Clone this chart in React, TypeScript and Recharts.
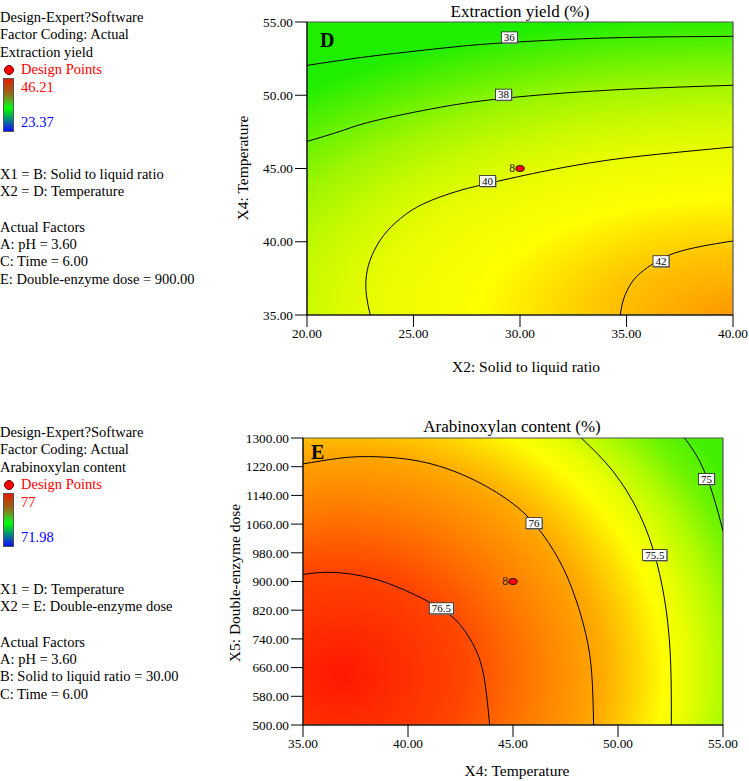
import React from "react";
import { ScatterChart, Scatter, XAxis, YAxis, ReferenceArea } from "recharts";

const SERIF = '"Liberation Serif", "Times New Roman", serif';

type Pt = { x: number; y: number };
type Tag = { x: number; y: number; label: string };

// ---- panel D: extraction yield ----
const dTicksX = [20, 25, 30, 35, 40];
const dTicksY = [35, 40, 45, 50, 55];
const d36: Pt[] = [
  { x: 20, y: 52.04 }, { x: 22.35, y: 52.54 }, { x: 24.69, y: 52.95 }, { x: 27.04, y: 53.32 },
  { x: 29.39, y: 53.59 }, { x: 34.08, y: 53.91 }, { x: 40, y: 54.02 },
];
const d38: Pt[] = [
  { x: 20, y: 46.85 }, { x: 21.56, y: 47.54 }, { x: 23.13, y: 48.24 }, { x: 26.26, y: 49.18 },
  { x: 29.39, y: 49.81 }, { x: 34.08, y: 50.34 }, { x: 40, y: 50.68 },
];
const d40: Pt[] = [
  { x: 22.97, y: 35.0 }, { x: 22.79, y: 36.34 }, { x: 22.79, y: 37.71 }, { x: 23.05, y: 39.07 },
  { x: 23.6, y: 40.44 }, { x: 24.38, y: 41.58 }, { x: 25.48, y: 42.6 }, { x: 27.04, y: 43.44 },
  { x: 28.45, y: 43.96 }, { x: 30.95, y: 44.76 }, { x: 34.08, y: 45.56 }, { x: 37.21, y: 46.08 },
  { x: 40, y: 46.47 },
];
const d42: Pt[] = [
  { x: 34.71, y: 35.0 }, { x: 34.87, y: 36.11 }, { x: 35.26, y: 37.25 }, { x: 35.81, y: 38.05 },
  { x: 36.59, y: 38.8 }, { x: 37.53, y: 39.35 }, { x: 38.78, y: 39.76 }, { x: 40, y: 40.05 },
];
const dTags: Tag[] = [
  { x: 29.5, y: 53.95, label: "36" },
  { x: 29.23, y: 50.04, label: "38" },
  { x: 28.48, y: 44.15, label: "40" },
  { x: 36.62, y: 38.67, label: "42" },
];
const dDesign: Tag[] = [{ x: 30, y: 45, label: "8" }];

// ---- panel E: arabinoxylan content ----
const eTicksX = [35, 40, 45, 50, 55];
const eTicksY = [500, 580, 660, 740, 820, 900, 980, 1060, 1140, 1220, 1300];
const e765: Pt[] = [
  { x: 35, y: 919.9 }, { x: 36.43, y: 925.4 }, { x: 38.17, y: 910.6 }, { x: 39.76, y: 878.1 },
  { x: 41.35, y: 831.8 }, { x: 42.46, y: 780.8 }, { x: 43.25, y: 706.6 }, { x: 43.65, y: 623.1 },
  { x: 43.89, y: 500 },
];
const e76: Pt[] = [
  { x: 35, y: 1227.7 }, { x: 36.59, y: 1242.5 }, { x: 38.17, y: 1248.1 }, { x: 40.56, y: 1235.1 },
  { x: 42.94, y: 1188.7 }, { x: 44.84, y: 1123.8 }, { x: 46.11, y: 1054.3 }, { x: 47.22, y: 956.9 },
  { x: 48.02, y: 845.7 }, { x: 48.57, y: 725.1 }, { x: 48.78, y: 613.9 }, { x: 48.84, y: 500 },
];
const e755: Pt[] = [
  { x: 48.25, y: 1300 }, { x: 49.76, y: 1207.3 }, { x: 51.03, y: 1086.7 }, { x: 51.83, y: 956.9 },
  { x: 52.3, y: 817.9 }, { x: 52.51, y: 669.5 }, { x: 52.54, y: 500 },
];
const e75: Pt[] = [
  { x: 53.17, y: 1300 }, { x: 53.89, y: 1235.1 }, { x: 54.52, y: 1142.4 }, { x: 55, y: 1040.4 },
];
const eTags: Tag[] = [
  { x: 41.59, y: 825.3, label: "76.5" },
  { x: 46.0, y: 1062.6, label: "76" },
  { x: 51.75, y: 973.6, label: "75.5" },
  { x: 54.21, y: 1186, label: "75" },
];
const eDesign: Tag[] = [{ x: 45, y: 900, label: "8" }];

const fmt = (v: number) => v.toFixed(2);

function NoDot() {
  return <g />;
}

function LevelTag(props: any) {
  const { cx, cy, payload } = props;
  const s: string = payload.label;
  let tw = 0;
  for (const ch of s) tw += ch === "." ? 2.75 : 5.5;
  const w = tw + 5;
  const h = 11;
  return (
    <g>
      <rect x={cx - w / 2 + 1} y={cy - h / 2 + 1} width={w} height={h} fill="#8a8a8a" />
      <rect x={cx - w / 2} y={cy - h / 2} width={w} height={h} fill="#fff" stroke="#222" strokeWidth={0.8} />
      <text x={cx} y={cy + 3.8} textAnchor="middle" fontSize={11} fontFamily={SERIF} fill="#000">
        {s}
      </text>
    </g>
  );
}

function DesignPt(props: any) {
  const { cx, cy, payload } = props;
  return (
    <g>
      <text x={cx - 5} y={cy + 3.5} textAnchor="end" fontSize={11.5} fontFamily={SERIF} fill="#222">
        {payload.label}
      </text>
      <ellipse cx={cx} cy={cy} rx={4.3} ry={3} fill="#ff0000" stroke="#000" strokeWidth={0.8} />
    </g>
  );
}

function T(props: {
  x: number;
  y: number;
  size?: number;
  color?: string;
  center?: boolean;
  rotate?: boolean;
  bold?: boolean;
  children: React.ReactNode;
}) {
  const { x, y, size = 14.5, color = "#000", center, rotate, bold, children } = props;
  let tf = "translateY(-50%)";
  if (center) tf = "translate(-50%, -50%)";
  if (rotate) tf = "translate(-50%, -50%) rotate(-90deg)";
  return (
    <div
      style={{
        position: "absolute",
        left: x,
        top: y,
        fontFamily: SERIF,
        fontSize: size,
        lineHeight: 1,
        color,
        whiteSpace: "nowrap",
        fontWeight: bold ? 700 : 400,
        transform: tf,
      }}
    >
      {children}
    </div>
  );
}

function SideLegend(props: { top: number; lines: string[]; hi: string; lo: string; factors: string[] }) {
  const { top, lines, hi, lo, factors } = props;
  const o = top;
  return (
    <>
      <T x={0} y={o + 17}>{lines[0]}</T>
      <T x={0} y={o + 34}>{lines[1]}</T>
      <T x={0} y={o + 52}>{lines[2]}</T>
      <div
        style={{
          position: "absolute", left: 4, top: o + 65, width: 8, height: 8, borderRadius: "50%",
          background: "#ff0000", border: "0.5px solid #600",
        }}
      />
      <T x={21} y={o + 69} color="#ff0000">Design Points</T>
      <div
        style={{
          position: "absolute", left: 3, top: o + 78, width: 9, height: 52,
          border: "1px solid #555",
          background:
            "linear-gradient(to bottom, #e81c00 0%, #c0400c 12%, #9a6418 26%, #6c9a1c 38%, #20e020 50%, #00ff00 56%, #00c040 68%, #00808a 80%, #1040c8 90%, #0010ff 100%)",
        }}
      />
      <T x={21} y={o + 87} color="#ff0000">{hi}</T>
      <T x={21} y={o + 122} color="#0000ff">{lo}</T>
      {factors.map((f, i) => {
        const ys = [174, 191, 227, 244, 261, 279];
        return (
          <T key={i} x={0} y={o + ys[i]}>
            {f}
          </T>
        );
      })}
    </>
  );
}

const axisTick = { fill: "#000", fontSize: 13.3, fontFamily: SERIF };

export default function App() {
  return (
    <div style={{ position: "absolute", left: 0, top: 0, width: 749, height: 781, background: "#fff", overflow: "hidden" }}>
      {/* Panel D */}
      <div style={{ position: "absolute", left: 0, top: 0 }}>
        <ScatterChart width={749} height={390} margin={{ top: 22, right: 16, bottom: 45, left: 247 }}>
          <defs>
            <radialGradient
              id="gradD"
              gradientUnits="userSpaceOnUse"
              cx={733}
              cy={315}
              r={300}
              gradientTransform="translate(733 315) scale(2.17 1) translate(-733 -315)"
            >
              <stop offset="0" stopColor="#ff9800" />
              <stop offset="0.2" stopColor="#ffc400" />
              <stop offset="0.39" stopColor="#ffff00" />
              <stop offset="0.56" stopColor="#e8fc00" />
              <stop offset="0.66" stopColor="#cafa00" />
              <stop offset="0.77" stopColor="#a0f600" />
              <stop offset="0.92" stopColor="#4cf000" />
              <stop offset="1" stopColor="#20ee00" />
            </radialGradient>
          </defs>
          <XAxis
            type="number" dataKey="x" domain={[20, 40]} ticks={dTicksX} tickFormatter={fmt}
            allowDataOverflow interval={0} height={30} tickSize={12} tickMargin={2}
            stroke="#000" tick={axisTick}
          />
          <YAxis
            type="number" dataKey="y" domain={[35, 55]} ticks={dTicksY} tickFormatter={fmt}
            allowDataOverflow interval={0} width={60} tickSize={12} tickMargin={2}
            stroke="#000" tick={axisTick}
          />
          <ReferenceArea x1={20} x2={40} y1={35} y2={55} fill="url(#gradD)" fillOpacity={1} stroke="#555" strokeWidth={1.2} />
          {[d36, d38, d40, d42].map((c, i) => (
            <Scatter key={i} data={c} line={{ stroke: "#000", strokeWidth: 1 }} lineJointType="natural" shape={NoDot} isAnimationActive={false} />
          ))}
          <Scatter data={dTags} shape={LevelTag} isAnimationActive={false} />
          <Scatter data={dDesign} shape={DesignPt} isAnimationActive={false} />
        </ScatterChart>
      </div>

      {/* Panel E */}
      <div style={{ position: "absolute", left: 0, top: 390 }}>
        <ScatterChart width={749} height={391} margin={{ top: 48, right: 26, bottom: 26, left: 243 }}>
          <defs>
            <radialGradient
              id="gradE"
              gradientUnits="userSpaceOnUse"
              cx={341}
              cy={285}
              r={450}
              gradientTransform="translate(341 285) scale(1 0.86) translate(-341 -285)"
            >
              <stop offset="0" stopColor="#ff1800" />
              <stop offset="0.27" stopColor="#ff4400" />
              <stop offset="0.42" stopColor="#ff7800" />
              <stop offset="0.58" stopColor="#ffaa00" />
              <stop offset="0.66" stopColor="#ffd800" />
              <stop offset="0.72" stopColor="#ffff00" />
              <stop offset="0.77" stopColor="#e8ff00" />
              <stop offset="0.85" stopColor="#b0fb00" />
              <stop offset="0.92" stopColor="#70f400" />
              <stop offset="1" stopColor="#40f000" />
            </radialGradient>
          </defs>
          <XAxis
            type="number" dataKey="x" domain={[35, 55]} ticks={eTicksX} tickFormatter={fmt}
            allowDataOverflow interval={0} height={30} tickSize={12} tickMargin={2}
            stroke="#000" tick={axisTick}
          />
          <YAxis
            type="number" dataKey="y" domain={[500, 1300]} ticks={eTicksY} tickFormatter={fmt}
            allowDataOverflow interval={0} width={60} tickSize={12} tickMargin={2}
            stroke="#000" tick={axisTick}
          />
          <ReferenceArea x1={35} x2={55} y1={500} y2={1300} fill="url(#gradE)" fillOpacity={1} stroke="#555" strokeWidth={1.2} />
          {[e765, e76, e755, e75].map((c, i) => (
            <Scatter key={i} data={c} line={{ stroke: "#000", strokeWidth: 1 }} lineJointType="natural" shape={NoDot} isAnimationActive={false} />
          ))}
          <Scatter data={eTags} shape={LevelTag} isAnimationActive={false} />
          <Scatter data={eDesign} shape={DesignPt} isAnimationActive={false} />
        </ScatterChart>
      </div>

      {/* titles and axis names */}
      <T x={520} y={11} size={17} center>Extraction yield (%)</T>
      <T x={526} y={367} size={15.5} center>X2: Solid to liquid ratio</T>
      <T x={243} y={168} size={15.5} rotate>X4: Temperature</T>
      <T x={320} y={40} size={20} bold>D</T>

      <T x={512} y={426} size={17} center>Arabinoxylan content (%)</T>
      <T x={517} y={771} size={15.5} center>X4: Temperature</T>
      <T x={235} y={583} size={15.5} rotate>X5: Double-enzyme dose</T>
      <T x={311} y={452} size={20} bold>E</T>

      <SideLegend
        top={0}
        lines={["Design-Expert?Software", "Factor Coding: Actual", "Extraction yield"]}
        hi="46.21"
        lo="23.37"
        factors={[
          "X1 = B: Solid to liquid ratio",
          "X2 = D: Temperature",
          "Actual Factors",
          "A: pH = 3.60",
          "C: Time = 6.00",
          "E: Double-enzyme dose = 900.00",
        ]}
      />
      <SideLegend
        top={415}
        lines={["Design-Expert?Software", "Factor Coding: Actual", "Arabinoxylan content"]}
        hi="77"
        lo="71.98"
        factors={[
          "X1 = D: Temperature",
          "X2 = E: Double-enzyme dose",
          "Actual Factors",
          "A: pH = 3.60",
          "B: Solid to liquid ratio = 30.00",
          "C: Time = 6.00",
        ]}
      />
    </div>
  );
}
